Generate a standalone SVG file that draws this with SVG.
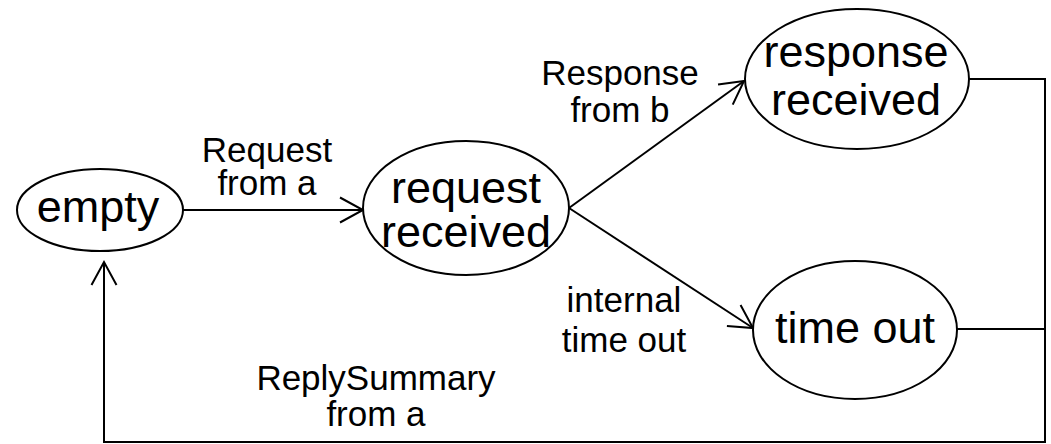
<svg xmlns="http://www.w3.org/2000/svg" width="1051" height="444" viewBox="0 0 1051 444">
  <style>
    .state { fill: #ffffff; stroke: #000000; stroke-width: 2; }
    .state-label { font-family: "Liberation Sans", Arial, sans-serif; font-size: 45px; fill: #000000; text-anchor: middle; }
    .edge { fill: none; stroke: #000000; stroke-width: 2; }
    .edge-label { font-family: "Liberation Sans", Arial, sans-serif; font-size: 35px; fill: #000000; text-anchor: middle; }
  </style>
  <defs>
    <marker id="open-arrow" markerUnits="userSpaceOnUse" markerWidth="30" markerHeight="30" viewBox="-26 -15 30 30" refX="0" refY="0" orient="auto" overflow="visible">
      <path d="M -23 -12.5 L 0 0 L -23 12.5" fill="none" stroke="#000000" stroke-width="2"/>
    </marker>
  </defs>
  <rect width="1051" height="444" fill="#ffffff"/>

  <!-- transitions -->
  <g id="connectors">
    <path class="edge" d="M 183 210 L 363 210" marker-end="url(#open-arrow)"/>
    <path class="edge" d="M 569 208 L 744 81" marker-end="url(#open-arrow)"/>
    <path class="edge" d="M 569 208 L 753 328" marker-end="url(#open-arrow)"/>
    <path class="edge" d="M 969 79 H 1045 V 442 H 104 V 262" marker-end="url(#open-arrow)"/>
    <path class="edge" d="M 957 329 H 1045"/>
    <text class="edge-label" x="267" y="162">Request</text>
    <text class="edge-label" x="267" y="195">from a</text>
    <text class="edge-label" x="620" y="85">Response</text>
    <text class="edge-label" x="620" y="122">from b</text>
    <text class="edge-label" x="624" y="312">internal</text>
    <text class="edge-label" x="624" y="352">time out</text>
    <text class="edge-label" x="376" y="390">ReplySummary</text>
    <text class="edge-label" x="376" y="426">from a</text>
  </g>

  <!-- states -->
  <g id="state-empty">
    <ellipse class="state" cx="100" cy="210" rx="83" ry="41"/>
    <text class="state-label" x="98" y="222">empty</text>
  </g>
  <g id="state-request-received">
    <ellipse class="state" cx="466" cy="208" rx="103" ry="67"/>
    <text class="state-label" x="466" y="203">request</text>
    <text class="state-label" x="466" y="247">received</text>
  </g>
  <g id="state-response-received">
    <ellipse class="state" cx="857" cy="79" rx="112" ry="70"/>
    <text class="state-label" x="856" y="67">response</text>
    <text class="state-label" x="856" y="115">received</text>
  </g>
  <g id="state-time-out">
    <ellipse class="state" cx="855" cy="330" rx="102" ry="69"/>
    <text class="state-label" x="855" y="343">time out</text>
  </g>
</svg>
